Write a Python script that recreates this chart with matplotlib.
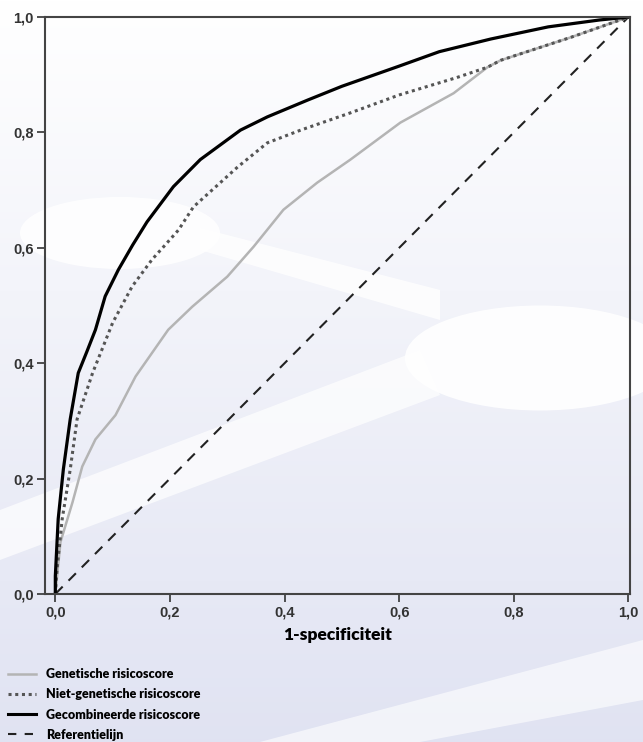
import matplotlib.pyplot as plt
import numpy as np
from matplotlib.patches import Ellipse, Polygon
from matplotlib.lines import Line2D

plt.rcParams['font.family'] = ['Lato', 'DejaVu Sans']

# ROC curves (1-specificity, sensitivity)
comb_x = [0.0, 0.0, 0.005, 0.014, 0.026, 0.040, 0.055, 0.070, 0.087, 0.110, 0.135, 0.160,
          0.206, 0.253, 0.323, 0.37, 0.44, 0.5, 0.6, 0.67, 0.76, 0.86, 0.95, 1.0]
comb_y = [0.0, 0.031, 0.13, 0.216, 0.303, 0.383, 0.42, 0.458, 0.516, 0.562, 0.605, 0.645,
          0.706, 0.753, 0.804, 0.827, 0.856, 0.88, 0.915, 0.94, 0.962, 0.983, 0.995, 1.0]

nongen_x = [0.0, 0.003, 0.012, 0.026, 0.038, 0.065, 0.10, 0.134, 0.169, 0.189, 0.215,
            0.241, 0.318, 0.37, 0.428, 0.515, 0.6, 0.7, 0.754, 0.777, 0.9, 1.0]
nongen_y = [0.0, 0.043, 0.13, 0.216, 0.303, 0.383, 0.47, 0.533, 0.58, 0.602, 0.631,
            0.671, 0.740, 0.782, 0.804, 0.834, 0.865, 0.895, 0.913, 0.925, 0.965, 1.0]

gen_x = [0.0, 0.009, 0.03, 0.047, 0.07, 0.105, 0.14, 0.197, 0.239, 0.30, 0.346, 0.398,
         0.457, 0.515, 0.602, 0.695, 0.754, 0.777, 0.9, 1.0]
gen_y = [0.0, 0.09, 0.159, 0.221, 0.268, 0.31, 0.377, 0.458, 0.498, 0.55, 0.602, 0.666,
         0.713, 0.753, 0.817, 0.868, 0.913, 0.925, 0.965, 1.0]

ref_x = [0.0, 1.0]
ref_y = [0.0, 1.0]

ticks = [0.0, 0.2, 0.4, 0.6, 0.8, 1.0]
tick_labels = ['0,0', '0,2', '0,4', '0,6', '0,8', '1,0']

fig = plt.figure(figsize=(6.43, 7.42), dpi=100)

# background: soft gradient with white decorative shapes
bg = fig.add_axes([0, 0, 1, 1], zorder=-10)
grad = np.linspace(1, 0, 256).reshape(-1, 1)
top = np.array([1.0, 1.0, 1.0])
bot = np.array([0.88, 0.89, 0.95])
img = top * grad[..., None] + bot * (1 - grad[..., None])
bg.imshow(img, aspect='auto', extent=[0, 643, 742, 0])
bg.set_xlim(0, 643)
bg.set_ylim(742, 0)
bg.add_patch(Ellipse((120, 233), 200, 72, color='white', alpha=0.85, lw=0))
bg.add_patch(Polygon([[200, 228], [440, 290], [440, 320], [200, 250]], color='white', alpha=0.8, lw=0))
bg.add_patch(Ellipse((540, 358), 270, 105, color='white', alpha=0.9, lw=0))
bg.add_patch(Polygon([[0, 510], [420, 350], [440, 395], [0, 560]], color='white', alpha=0.7, lw=0))
bg.add_patch(Polygon([[260, 742], [643, 640], [643, 700], [420, 742]], color='white', alpha=0.6, lw=0))
bg.axis('off')

ax = fig.add_axes([0.07, 0.1995, 0.91, 0.7775])
ax.set_facecolor('none')

ax.plot(ref_x, ref_y, color='#222222', lw=1.5, dashes=(5, 4))
ax.plot(gen_x, gen_y, color='#b4b4b4', lw=1.8)
ax.plot(nongen_x, nongen_y, color='#555555', lw=2.2, linestyle=(0, (1, 1.2)))
ax.plot(comb_x, comb_y, color='black', lw=2.3, solid_joinstyle='round')

tick_font = dict(fontweight='bold', fontfamily=['Liberation Sans', 'DejaVu Sans'],
                 fontsize=10.5, color='#333333')
ax.set_xlim(-0.018, 1.003)
ax.set_ylim(0, 1.0)
ax.set_xticks(ticks)
ax.set_xticklabels(tick_labels, **tick_font)
ax.set_yticks(ticks)
ax.set_yticklabels(tick_labels, **tick_font)
ax.tick_params(direction='out', length=6, width=1.2, colors='#333333', pad=2)
for s in ax.spines.values():
    s.set_color('#444444')
    s.set_linewidth(1.5)

ax.set_xlabel('1-specificiteit', fontsize=12.5, fontweight='heavy', labelpad=6)

handles = [Line2D([], [], color='#b4b4b4', lw=1.8),
           Line2D([], [], color='#555555', lw=2.2, linestyle=(0, (1, 1.2))),
           Line2D([], [], color='black', lw=2.2),
           Line2D([], [], color='#222222', lw=1.5, dashes=(4, 4))]
labels = ['Genetische risicoscore', 'Niet-genetische risicoscore',
          'Gecombineerde risicoscore', 'Referentielijn']
fig.legend(handles, labels, loc='upper left', bbox_to_anchor=(0.005, 0.106),
           frameon=False, handlelength=2.2, handletextpad=0.8, labelspacing=0.65,
           prop={'size': 9, 'weight': 'heavy'}, borderaxespad=0)

fig.savefig('out.png', dpi=100)
